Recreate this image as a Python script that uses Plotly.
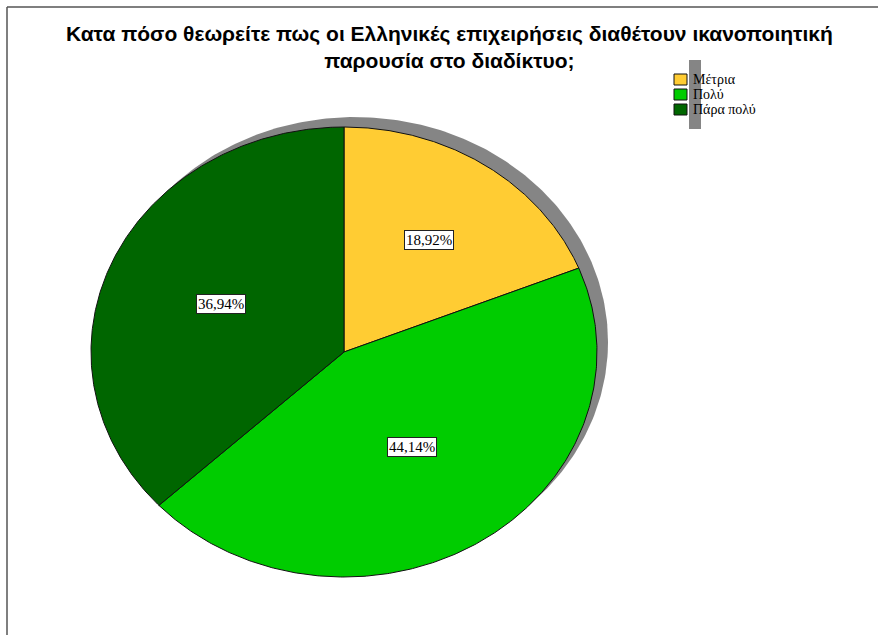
import numpy as np
import plotly.graph_objects as go

# Survey answers and their shares (%)
categories = ["Μέτρια", "Πολύ", "Πάρα πολύ"]
shares = [18.92, 44.14, 36.94]
colors = ["#FFCC33", "#00CC00", "#006600"]
title_text = ("Κατα πόσο θεωρείτε πως οι Ελληνικές επιχειρήσεις διαθέτουν ικανοποιητική"
              "<br>παρουσία στο διαδίκτυο;")

W, H = 880, 635
# pie centre and radii in pixels; axes are scaled so the pie is a unit ellipse
CX, CY, RX, RY = 344, 352, 253, 225
x_range = [-CX / RX, (W - CX) / RX]
y_range = [-(H - CY) / RY, CY / RY]


def px_x(p):
    return p / W


def px_y(p):
    return 1 - p / H


fig = go.Figure()

# drop shadow: the whole ellipse shifted up and to the right
t = np.linspace(0, 2 * np.pi, 400)
sx, sy = 11 / RX, 10 / RY
fig.add_trace(go.Scatter(
    x=np.cos(t) + sx, y=np.sin(t) + sy, mode="lines", fill="toself",
    fillcolor="#858585", line=dict(color="#858585", width=0),
    hoverinfo="skip", showlegend=False))

# slices start at 12 o'clock and run clockwise
fracs = np.array(shares) / np.sum(shares)
starts = np.concatenate([[0], np.cumsum(fracs)[:-1]])
label_r = [0.6, 0.5, 0.53]
annotations = []
for name, f, s, c, lr, v in zip(categories, fracs, starts, colors, label_r, shares):
    a0 = np.pi / 2 - 2 * np.pi * s
    a1 = np.pi / 2 - 2 * np.pi * (s + f)
    arc = np.linspace(a0, a1, 300)
    xs = np.concatenate([[0], np.cos(arc), [0]])
    ys = np.concatenate([[0], np.sin(arc), [0]])
    fig.add_trace(go.Scatter(
        x=xs, y=ys, mode="lines", fill="toself", fillcolor=c,
        line=dict(color="#111111", width=1), name=name, hoverinfo="skip",
        showlegend=False))
    am = (a0 + a1) / 2
    annotations.append(dict(
        x=lr * np.cos(am), y=lr * np.sin(am), xref="x", yref="y",
        text=f"{v:.2f}".replace(".", ",") + "%", showarrow=False,
        font=dict(family="Liberation Serif", size=15, color="#000000"),
        bgcolor="#FFFFFF", bordercolor="#222222", borderwidth=1, borderpad=1))

# two-line title
annotations.append(dict(
    x=px_x(449), y=px_y(46.5), xref="paper", yref="paper",
    xanchor="center", yanchor="middle", text=title_text, showarrow=False,
    align="center",
    font=dict(family="Liberation Sans", size=21, color="#000000", weight="bold")))

shapes = [
    # frame lines along the top and left edges
    dict(type="line", xref="paper", yref="paper", x0=px_x(7), x1=px_x(878),
         y0=px_y(7), y1=px_y(7), line=dict(color="#555555", width=1.5)),
    dict(type="line", xref="paper", yref="paper", x0=px_x(7), x1=px_x(7),
         y0=px_y(7), y1=0, line=dict(color="#555555", width=1.5)),
    # legend shadow strip
    dict(type="rect", xref="paper", yref="paper", x0=px_x(689), x1=px_x(701),
         y0=px_y(129), y1=px_y(60), fillcolor="#858585", line=dict(width=0),
         layer="below"),
]

# legend: colour swatches with serif labels
for i, (name, c) in enumerate(zip(categories, colors)):
    top = 74 + 15 * i
    shapes.append(dict(
        type="rect", xref="paper", yref="paper", x0=px_x(674), x1=px_x(687),
        y0=px_y(top + 11), y1=px_y(top), fillcolor=c,
        line=dict(color="#111111", width=1)))
    annotations.append(dict(
        x=px_x(691), y=px_y(top + 5.5), xref="paper", yref="paper",
        xanchor="left", yanchor="middle", text=name, showarrow=False,
        font=dict(family="Liberation Serif", size=14, color="#000000")))

fig.update_layout(
    width=W, height=H, margin=dict(l=0, r=0, t=0, b=0),
    paper_bgcolor="#FFFFFF", plot_bgcolor="rgba(0,0,0,0)",
    xaxis=dict(range=x_range, visible=False, fixedrange=True),
    yaxis=dict(range=y_range, visible=False, fixedrange=True),
    showlegend=False,
    annotations=annotations, shapes=shapes,
)

fig.write_html("out.html")
